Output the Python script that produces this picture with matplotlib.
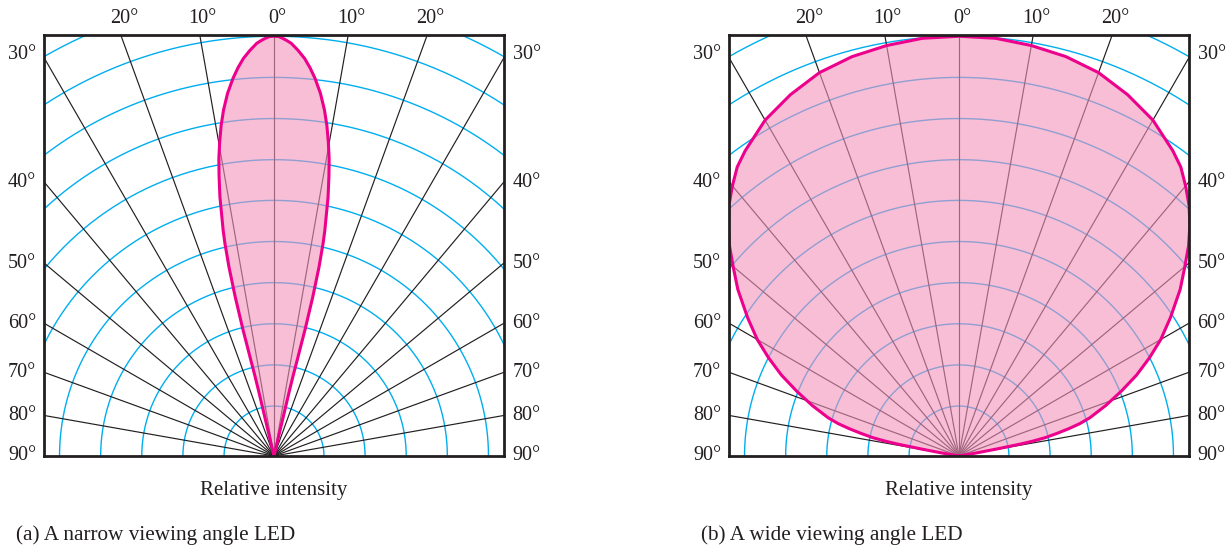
import matplotlib.pyplot as plt
import numpy as np

W, H = 1230, 545
PX = 419.7  # pixels per unit of relative intensity

# grid of the polar chart
ring_radii = [0.119, 0.217, 0.315, 0.413, 0.511, 0.609, 0.706, 0.804, 0.902, 1.0, 1.098]
spoke_angles = [-80, -70, -60, -50, -40, -30, -20, -10, 0, 10, 20, 30, 40, 50, 60, 70, 80]
top_labels = [-20, -10, 0, 10, 20]
side_labels = [30, 40, 50, 60, 70, 80, 90]

# half patterns (angle from axis in degrees, relative intensity), apex -> origin
narrow_angle = [0.0, 0.6, 1.1, 1.7, 2.4, 3.4, 4.4, 5.3, 6.2, 7.3, 8.3, 9.1, 9.8, 10.5, 11.1,
                11.8, 12.3, 12.7, 13.0, 13.4, 13.7, 13.8, 13.7, 13.6, 13.4, 13.3, 13.3, 13.3]
narrow_intensity = [1.0, 0.9995, 0.996, 0.991, 0.984, 0.968, 0.950, 0.929, 0.905, 0.871,
                    0.833, 0.797, 0.76, 0.721, 0.68, 0.63, 0.583, 0.551, 0.52, 0.463, 0.39,
                    0.309, 0.272, 0.235, 0.198, 0.162, 0.081, 0.0]

wide_angle = [0, 5, 10, 15, 20, 25, 30, 35, 37.5, 40, 42.6, 45, 47.5, 50.1, 53, 56.8, 60,
              62.7, 65.5, 68.2, 71, 73.7, 75, 76, 77, 78, 78.6, 79, 79.5, 80, 80]
wide_intensity = [1.0, 0.999, 0.993, 0.985, 0.972, 0.95, 0.924, 0.888, 0.868, 0.84, 0.81,
                  0.778, 0.742, 0.701, 0.66, 0.602, 0.555, 0.511, 0.465, 0.417, 0.37, 0.325,
                  0.298, 0.27, 0.24, 0.21, 0.18, 0.15, 0.09, 0.04, 0.0]

panels = [
    (274, "(a) A narrow viewing angle LED", narrow_angle, narrow_intensity),
    (959, "(b) A wide viewing angle LED", wide_angle, wide_intensity),
]

INK = "#231f20"
CYAN = "#00aeef"
MAGENTA = "#ec008c"
PINK = "#f294bc"
FONT = ["Liberation Serif", "DejaVu Serif"]

XMIN, XMAX = -0.548, 0.547
YMAX = 1.003
BOX_TOP, BOX_BOTTOM = 35, 456


def draw_panel(fig, center_px, caption, angles, intensity):
    left_px = center_px + XMIN * PX
    ax = fig.add_axes([left_px / W, 1 - BOX_BOTTOM / H, (XMAX - XMIN) * PX / W,
                       (BOX_BOTTOM - BOX_TOP) / H])
    ax.set_xlim(XMIN, XMAX)
    ax.set_ylim(0, YMAX)
    ax.set_xticks([])
    ax.set_yticks([])
    for spine in ax.spines.values():
        spine.set_linewidth(2.0)
        spine.set_color(INK)
        spine.set_zorder(6)

    t = np.linspace(0, np.pi, 400)
    for r in ring_radii:
        ax.plot(r * np.cos(t), r * np.sin(t), color=CYAN, lw=1.0, zorder=1)
    for a in spoke_angles:
        th = np.radians(a)
        ax.plot([0, 2 * np.sin(th)], [0, 2 * np.cos(th)], color=INK, lw=0.85, zorder=1)

    th = np.radians(np.array(angles, dtype=float))
    r = np.array(intensity, dtype=float)
    right_x, right_y = r * np.sin(th), r * np.cos(th)
    xs = np.concatenate([right_x[::-1], -right_x[1:]])
    ys = np.concatenate([right_y[::-1], right_y[1:]])
    ax.fill(xs, ys, color=PINK, alpha=0.6, lw=0, zorder=2)
    ax.plot(xs, ys, color=MAGENTA, lw=2.2, zorder=3, solid_joinstyle="round")

    # angle labels
    for a in top_labels:
        x = YMAX * np.tan(np.radians(a)) + 3 / PX
        ax.text(x, YMAX + 16 / PX, f"{abs(a)}°", ha="center", va="center",
                fontsize=14.5, family=FONT, color=INK, clip_on=False)
    for a in side_labels:
        y = XMAX / np.tan(np.radians(a)) if a < 90 else 0.0
        if a == 30:
            y += 4 / PX
        ax.text(XMIN - 8 / PX, y, f"{a}°", ha="right", va="center",
                fontsize=14.5, family=FONT, color=INK, clip_on=False)
        ax.text(XMAX + 9 / PX, y, f"{a}°", ha="left", va="center",
                fontsize=14.5, family=FONT, color=INK, clip_on=False)

    fig.text(center_px / W, 1 - 495 / H, "Relative intensity", ha="center", va="baseline",
             fontsize=15, family=FONT, color=INK)
    fig.text((left_px - 28) / W, 1 - 540 / H, caption, ha="left", va="baseline",
             fontsize=15.3, family=FONT, color=INK)


fig = plt.figure(figsize=(W / 100, H / 100), dpi=100, facecolor="white")
for center_px, caption, angles, intensity in panels:
    draw_panel(fig, center_px, caption, angles, intensity)

fig.savefig("out.png", dpi=100, facecolor="white")
